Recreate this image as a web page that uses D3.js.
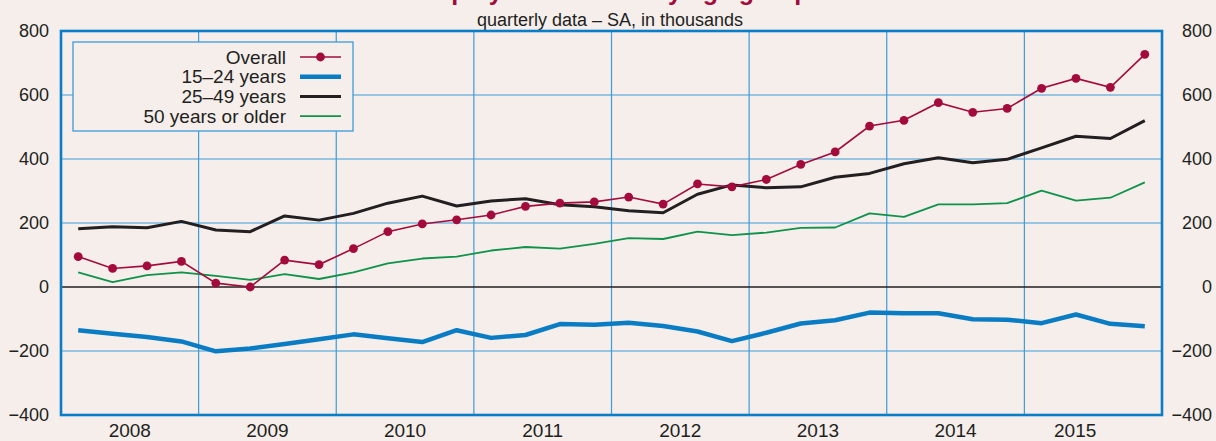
<!DOCTYPE html>
<html>
<head>
<meta charset="utf-8">
<script src="https://cdn.jsdelivr.net/npm/d3@7/dist/d3.min.js"></script>
<style>
    html, body { margin: 0; padding: 0; background: #f5eeeb; }
    svg { display: block; font-family: "Liberation Sans", Arial, Helvetica, sans-serif; }
</style>
</head>
<body>
<svg id="chart" width="1216" height="441"></svg>
<script>
// years on the x axis (one band per year, four quarters each)
const years = ["2008", "2009", "2010", "2011", "2012", "2013", "2014", "2015"];
const quarters = years.flatMap((yr) => ["Q1", "Q2", "Q3", "Q4"].map((q) => yr + q));

// y axis ticks, thousands
const yTicks = [-400, -200, 0, 200, 400, 600, 800];
const yGrid = [-200, 200, 400, 600];

// series values, thousands
const overall = [95, 58, 66, 80, 12, 0, 84, 70, 120, 173, 197, 210,
    225, 252, 262, 266, 281, 259, 322, 313, 336, 383, 422, 503,
    521, 576, 546, 558, 621, 652, 624, 727];
const young = [-135, -146, -156, -170, -201, -192, -178, -163, -148, -160, -172, -135,
    -159, -150, -116, -118, -112, -122, -139, -169, -143, -114, -104, -80,
    -82, -82, -101, -102, -113, -86, -115, -123];
const middle = [182, 188, 185, 205, 178, 173, 222, 209, 230, 262, 284, 253,
    269, 276, 257, 251, 238, 232, 290, 319, 310, 313, 343, 355,
    385, 404, 388, 399, 435, 471, 464, 520];
const older = [46, 15, 37, 46, 35, 22, 40, 25, 46, 74, 89, 95,
    114, 125, 120, 135, 153, 150, 173, 162, 170, 185, 186, 230,
    219, 258, 258, 262, 301, 270, 279, 327];

const seriesNames = ["Overall", "15\u201324 years", "25\u201349 years", "50 years or older"];

// colours
const BG = "#f5eeeb";
const FRAME = "#0a7dc6";
const GRID = "#3d9bd9";
const TEXT = "#231f20";
const RED = "#a30b3c";
const BLUE = "#0a7cc4";
const BLACK = "#231f20";
const GREEN = "#0f924a";

const svg = d3.select("#chart");
const plotLeft = 61, plotRight = 1162, plotTop = 31, plotBottom = 415;

// scales
const xQ = d3.scaleBand().domain(quarters).range([plotLeft, plotRight]).padding(0);
const xY = d3.scaleBand().domain(years).range([plotLeft, plotRight]).padding(0);
const yScale = d3.scaleLinear().domain([-400, 800]).range([plotBottom, plotTop]);
const qx = (i) => xQ(quarters[i]) + xQ.bandwidth() / 2;

svg.append("rect").attr("width", 1216).attr("height", 441).attr("fill", BG);

// title (cut off at the top edge, only descenders show) and subtitle
svg.append("text")
    .attr("x", 611).attr("y", 0)
    .attr("text-anchor", "middle")
    .style("font-size", "25px").style("font-weight", "bold")
    .attr("fill", RED)
    .text("Employment trends by age group");

svg.append("text")
    .attr("x", 610).attr("y", 26)
    .attr("text-anchor", "middle")
    .style("font-size", "18px")
    .attr("fill", TEXT)
    .text("quarterly data \u2013 SA, in thousands");

// grid
const grid = svg.append("g");
grid.selectAll(".hgrid")
    .data(yGrid)
    .enter()
    .append("line")
    .attr("x1", plotLeft).attr("x2", plotRight)
    .attr("y1", (d) => yScale(d)).attr("y2", (d) => yScale(d))
    .attr("stroke", GRID).attr("stroke-width", 1.2);

grid.selectAll(".vgrid")
    .data(years.slice(1))
    .enter()
    .append("line")
    .attr("x1", (d) => xY(d)).attr("x2", (d) => xY(d))
    .attr("y1", plotTop).attr("y2", plotBottom)
    .attr("stroke", GRID).attr("stroke-width", 1.2);

// zero line
svg.append("line")
    .attr("x1", plotLeft).attr("x2", plotRight)
    .attr("y1", yScale(0)).attr("y2", yScale(0))
    .attr("stroke", BLACK).attr("stroke-width", 1.6);

// left axis labels
const axisL = svg.append("g")
    .attr("transform", "translate(" + plotLeft + ",0)")
    .call(d3.axisLeft(yScale).tickValues(yTicks).tickSize(0).tickPadding(12));
axisL.select(".domain").remove();
axisL.selectAll("text")
    .style("font-size", "18px")
    .style("font-family", "'Liberation Sans', Arial, sans-serif")
    .attr("fill", TEXT);

// right axis labels (right aligned at the edge)
const axisR = svg.append("g")
    .attr("transform", "translate(1212,0)")
    .call(d3.axisRight(yScale).tickValues(yTicks).tickSize(0).tickPadding(0));
axisR.select(".domain").remove();
axisR.selectAll("text")
    .attr("text-anchor", "end")
    .style("font-size", "18px")
    .style("font-family", "'Liberation Sans', Arial, sans-serif")
    .attr("fill", TEXT);

// year labels
svg.append("g")
    .selectAll("text")
    .data(years)
    .enter()
    .append("text")
    .attr("x", (d) => xY(d) + xY.bandwidth() / 2)
    .attr("dx", (d, i) => (i == years.length - 1 ? -18 : 0))
    .attr("y", 437)
    .attr("text-anchor", "middle")
    .style("font-size", "19px")
    .attr("fill", TEXT)
    .text((d) => d);

// lines
const line = d3.line()
    .x((d, i) => qx(i))
    .y((d) => yScale(d));

svg.append("path")
    .datum(older)
    .attr("d", line)
    .attr("fill", "none")
    .attr("stroke", GREEN)
    .attr("stroke-width", 1.8)
    .attr("stroke-linejoin", "round");

svg.append("path")
    .datum(middle)
    .attr("d", line)
    .attr("fill", "none")
    .attr("stroke", BLACK)
    .attr("stroke-width", 3)
    .attr("stroke-linejoin", "round");

svg.append("path")
    .datum(young)
    .attr("d", line)
    .attr("fill", "none")
    .attr("stroke", BLUE)
    .attr("stroke-width", 4.5)
    .attr("stroke-linejoin", "round");

svg.append("path")
    .datum(overall)
    .attr("d", line)
    .attr("fill", "none")
    .attr("stroke", RED)
    .attr("stroke-width", 1.6);

svg.append("g")
    .selectAll("circle")
    .data(overall)
    .enter()
    .append("circle")
    .attr("cx", (d, i) => qx(i))
    .attr("cy", (d) => yScale(d))
    .attr("r", 4.4)
    .attr("fill", RED);

// frame
svg.append("rect")
    .attr("x", plotLeft).attr("y", plotTop)
    .attr("width", plotRight - plotLeft).attr("height", plotBottom - plotTop)
    .attr("fill", "none")
    .attr("stroke", FRAME)
    .attr("stroke-width", 2.6);

// legend
const legend = svg.append("g").attr("transform", "translate(73,42)");
legend.append("rect")
    .attr("width", 280).attr("height", 89)
    .attr("fill", BG)
    .attr("stroke", GRID)
    .attr("stroke-width", 1.3);

const legendStyles = [
    { color: RED, width: 1.6, dot: true },
    { color: BLUE, width: 4.5, dot: false },
    { color: BLACK, width: 3, dot: false },
    { color: GREEN, width: 1.8, dot: false },
];

const rows = legend.selectAll(".row")
    .data(seriesNames)
    .enter()
    .append("g")
    .attr("transform", (d, i) => "translate(0," + (15 + i * 19.7) + ")");

rows.append("text")
    .attr("x", 213).attr("y", 0)
    .attr("dy", "0.35em")
    .attr("text-anchor", "end")
    .style("font-size", "19px")
    .attr("fill", TEXT)
    .text((d) => d);

rows.append("line")
    .attr("x1", 227).attr("x2", 268)
    .attr("y1", 0).attr("y2", 0)
    .attr("stroke", (d, i) => legendStyles[i].color)
    .attr("stroke-width", (d, i) => legendStyles[i].width);

rows.filter((d, i) => legendStyles[i].dot)
    .append("circle")
    .attr("cx", 247.5).attr("cy", 0)
    .attr("r", 4.4)
    .attr("fill", RED);
</script>
</body>
</html>
